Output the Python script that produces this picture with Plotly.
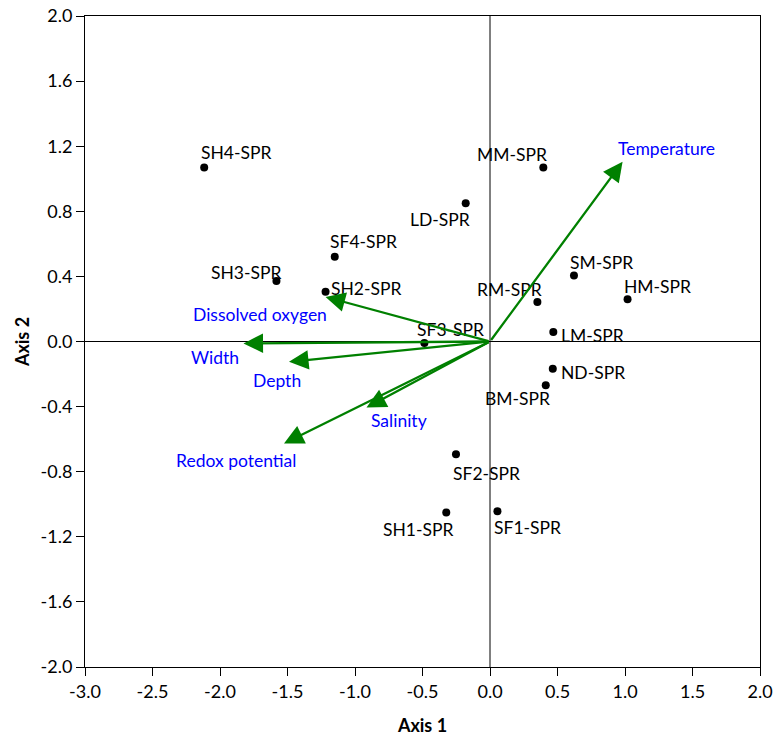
import plotly.graph_objects as go

# ---- data ----
site_names = ["SH4-SPR", "MM-SPR", "LD-SPR", "SF4-SPR", "SH3-SPR", "SH2-SPR", "SF3-SPR",
              "RM-SPR", "SM-SPR", "HM-SPR", "LM-SPR", "ND-SPR", "BM-SPR", "SF2-SPR",
              "SH1-SPR", "SF1-SPR"]
site_x = [-2.117, 0.395, -0.18, -1.15, -1.582, -1.218, -0.486,
          0.351, 0.622, 1.019, 0.469, 0.465, 0.413, -0.252,
          -0.324, 0.055]
site_y = [1.069, 1.069, 0.849, 0.52, 0.371, 0.305, -0.009,
          0.243, 0.406, 0.26, 0.059, -0.168, -0.269, -0.693,
          -1.051, -1.043]

var_names = ["Temperature", "Dissolved oxygen", "Width", "Depth", "Salinity", "Redox potential"]
var_x = [0.982, -1.218, -1.826, -1.489, -0.915, -1.526]
var_y = [1.104, 0.274, -0.012, -0.125, -0.406, -0.627]

x_ticks = [-3.0, -2.5, -2.0, -1.5, -1.0, -0.5, 0.0, 0.5, 1.0, 1.5, 2.0]
y_ticks = [-2.0, -1.6, -1.2, -0.8, -0.4, 0.0, 0.4, 0.8, 1.2, 1.6, 2.0]

# ---- label placement (pixel offsets) ----
site_offsets = {
    "SH4-SPR": (32, 15), "MM-SPR": (-31, 13), "LD-SPR": (-26, -16), "SF4-SPR": (29, 15),
    "SH3-SPR": (-30, 9), "SH2-SPR": (41, 3), "SF3-SPR": (26, 13), "RM-SPR": (-28, 12),
    "SM-SPR": (28, 13), "HM-SPR": (30, 13), "LM-SPR": (39, -4), "ND-SPR": (40, -4),
    "BM-SPR": (-28, -13), "SF2-SPR": (31, -19), "SH1-SPR": (-28, -17), "SF1-SPR": (30, -16),
}
var_offsets = {
    "Temperature": (44, 13), "Dissolved oxygen": (-66, -18), "Width": (-28, -14),
    "Depth": (-12, -19), "Salinity": (33, -13), "Redox potential": (-48, -17),
}

FONT = "Lato"
FS = 17.5
TFS = 18
fig = go.Figure()

fig.add_trace(go.Scatter(x=site_x, y=site_y, mode="markers",
                         marker=dict(color="black", size=8), hoverinfo="text",
                         text=site_names, showlegend=False))

annotations = []
for n, x, y in zip(site_names, site_x, site_y):
    dx, dy = site_offsets[n]
    annotations.append(dict(x=x, y=y, xref="x", yref="y", text=n, showarrow=False,
                            xshift=dx, yshift=dy,
                            font=dict(family=FONT, size=FS, color="black")))
for n, x, y in zip(var_names, var_x, var_y):
    annotations.append(dict(x=x, y=y, xref="x", yref="y", ax=0, ay=0, axref="x", ayref="y",
                            text="", showarrow=True, arrowhead=2, arrowsize=1.7,
                            arrowwidth=2.3, arrowcolor="#008000", standoff=0, startstandoff=0))
    dx, dy = var_offsets[n]
    annotations.append(dict(x=x, y=y, xref="x", yref="y", text=n, showarrow=False,
                            xshift=dx, yshift=dy,
                            font=dict(family=FONT, size=FS, color="#0000FF")))

shapes = [
    dict(type="line", xref="x", yref="y", x0=0, x1=0, y0=-2, y1=2,
         line=dict(color="black", width=1), layer="below"),
    dict(type="line", xref="x", yref="y", x0=-3, x1=2, y0=0, y1=0,
         line=dict(color="black", width=1), layer="below"),
]

fig.update_layout(
    width=777, height=740,
    margin=dict(l=85, r=17, t=16, b=73),
    plot_bgcolor="white", paper_bgcolor="white",
    annotations=annotations, shapes=shapes,
    font=dict(family=FONT, size=FS, color="black"),
    xaxis=dict(range=[-3, 2], tickvals=x_ticks, ticktext=[f"{v:.1f}" for v in x_ticks],
               showgrid=False, zeroline=False, showline=True, linecolor="black", linewidth=1,
               mirror=True, ticks="outside", ticklen=8, tickcolor="black", automargin=False,
               tickfont=dict(family=FONT, size=TFS),
               title=dict(text="<b>Axis 1</b>", font=dict(family=FONT, size=TFS), standoff=18)),
    yaxis=dict(range=[-2, 2], tickvals=y_ticks, ticktext=[f"{v:.1f}" for v in y_ticks],
               showgrid=False, zeroline=False, showline=True, linecolor="black", linewidth=1,
               mirror=True, ticks="outside", ticklen=8, tickcolor="black", automargin=False,
               tickfont=dict(family=FONT, size=TFS),
               title=dict(text="<b>Axis 2</b>", font=dict(family=FONT, size=TFS), standoff=6)),
)

fig.write_html("out.html")
